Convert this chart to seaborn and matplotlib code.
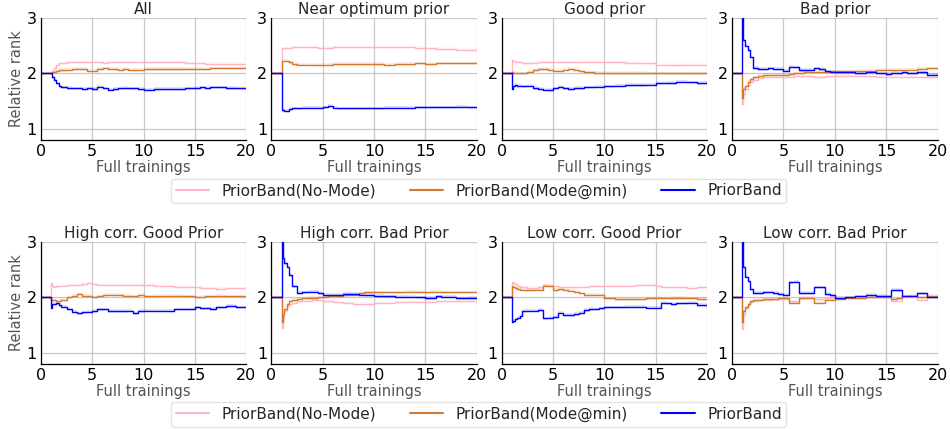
import matplotlib
matplotlib.use("Agg")
import matplotlib.pyplot as plt
import seaborn as sns
import pandas as pd

full_trainings = [0, 1, 1.1, 1.25, 1.5, 1.75, 2, 2.5, 3, 3.5, 4, 4.5, 5, 5.5, 6, 6.5, 7, 7.5, 8, 8.5,
                  9, 9.5, 10, 11, 12, 13, 14, 15, 15.5, 16, 16.5, 17, 18, 19, 20]

titles = ["All", "Near optimum prior", "Good prior", "Bad prior",
          "High corr. Good Prior", "High corr. Bad Prior", "Low corr. Good Prior", "Low corr. Bad Prior"]
methods = ["PriorBand(No-Mode)", "PriorBand(Mode@min)", "PriorBand"]

# relative rank per panel, one list per method
all_nomode = [2.0, 2.0, 2.05, 2.1, 2.15, 2.18, 2.19, 2.2, 2.2, 2.2, 2.2, 2.2, 2.21, 2.2, 2.19, 2.2, 2.2, 2.2, 2.2, 2.2,
              2.2, 2.2, 2.2, 2.2, 2.2, 2.2, 2.19, 2.18, 2.18, 2.17, 2.17, 2.17, 2.17, 2.17, 2.16]
all_modemin = [2.0, 2.0, 2.02, 2.03, 2.05, 2.06, 2.06, 2.07, 2.08, 2.08, 2.08, 2.05, 2.05, 2.08, 2.09, 2.08, 2.08, 2.07, 2.08, 2.07,
               2.06, 2.07, 2.08, 2.08, 2.08, 2.08, 2.08, 2.08, 2.08, 2.08, 2.09, 2.09, 2.09, 2.09, 2.09]
all_pb = [2.0, 2.0, 1.93, 1.88, 1.82, 1.77, 1.75, 1.74, 1.73, 1.73, 1.72, 1.73, 1.72, 1.76, 1.73, 1.71, 1.72, 1.73, 1.74, 1.73,
          1.73, 1.72, 1.71, 1.72, 1.72, 1.72, 1.73, 1.74, 1.75, 1.74, 1.75, 1.75, 1.74, 1.73, 1.74]

near_nomode = [2.0, 2.45, 2.45, 2.45, 2.46, 2.46, 2.47, 2.47, 2.48, 2.47, 2.47, 2.46, 2.46, 2.46, 2.47, 2.47, 2.47, 2.47, 2.47, 2.47,
               2.47, 2.47, 2.47, 2.47, 2.47, 2.48, 2.46, 2.45, 2.45, 2.44, 2.44, 2.44, 2.43, 2.43, 2.43]
near_modemin = [2.0, 2.23, 2.23, 2.23, 2.23, 2.2, 2.17, 2.16, 2.16, 2.16, 2.16, 2.15, 2.16, 2.16, 2.17, 2.17, 2.17, 2.17, 2.17, 2.17,
                2.17, 2.17, 2.17, 2.16, 2.17, 2.17, 2.18, 2.17, 2.17, 2.18, 2.18, 2.18, 2.18, 2.18, 2.18]
near_pb = [2.0, 1.34, 1.34, 1.33, 1.32, 1.36, 1.37, 1.37, 1.38, 1.38, 1.38, 1.38, 1.39, 1.41, 1.38, 1.37, 1.37, 1.37, 1.37, 1.37,
           1.37, 1.37, 1.37, 1.38, 1.38, 1.38, 1.39, 1.39, 1.39, 1.39, 1.39, 1.39, 1.4, 1.39, 1.4]

good_nomode = [2.0, 2.24, 2.22, 2.2, 2.2, 2.2, 2.19, 2.19, 2.19, 2.2, 2.2, 2.2, 2.21, 2.2, 2.2, 2.2, 2.2, 2.21, 2.21, 2.21,
               2.21, 2.21, 2.2, 2.2, 2.19, 2.19, 2.18, 2.16, 2.16, 2.15, 2.15, 2.15, 2.16, 2.16, 2.16]
good_modemin = [2.0, 2.02, 2.01, 2.01, 2.0, 2.0, 2.0, 2.03, 2.06, 2.08, 2.08, 2.07, 2.05, 2.05, 2.07, 2.08, 2.07, 2.04, 2.02, 2.02,
                2.01, 2.01, 2.01, 2.01, 2.01, 2.01, 2.0, 2.0, 2.0, 2.0, 2.0, 2.0, 2.0, 2.0, 2.0]
good_pb = [2.0, 1.72, 1.78, 1.79, 1.78, 1.78, 1.77, 1.78, 1.74, 1.72, 1.71, 1.7, 1.73, 1.76, 1.73, 1.72, 1.74, 1.74, 1.75, 1.75,
           1.76, 1.76, 1.77, 1.78, 1.79, 1.79, 1.8, 1.82, 1.82, 1.83, 1.83, 1.85, 1.84, 1.83, 1.84]

bad_nomode = [2.0, 1.45, 1.62, 1.72, 1.8, 1.85, 1.89, 1.92, 1.93, 1.93, 1.94, 1.94, 1.94, 1.94, 1.95, 1.95, 1.96, 1.95, 1.93, 1.93,
              1.95, 1.95, 1.96, 1.96, 1.95, 1.95, 1.94, 1.94, 1.94, 1.94, 1.94, 1.94, 1.93, 1.93, 1.92]
bad_modemin = [2.0, 1.55, 1.72, 1.78, 1.85, 1.9, 1.93, 1.96, 1.97, 1.98, 1.98, 1.98, 1.98, 1.99, 2.0, 2.01, 2.03, 2.03, 2.03, 2.03,
               2.03, 2.04, 2.04, 2.04, 2.05, 2.05, 2.06, 2.07, 2.06, 2.06, 2.07, 2.07, 2.08, 2.09, 2.08]
bad_pb = [2.0, 3.1, 2.6, 2.5, 2.42, 2.3, 2.1, 2.08, 2.08, 2.09, 2.08, 2.08, 2.05, 2.12, 2.11, 2.06, 2.06, 2.07, 2.09, 2.08,
          2.04, 2.03, 2.02, 2.02, 2.01, 2.02, 2.0, 1.99, 2.01, 2.0, 2.02, 2.0, 2.02, 1.98, 2.0]

hcg_nomode = [2.0, 2.25, 2.2, 2.18, 2.2, 2.2, 2.21, 2.22, 2.23, 2.23, 2.24, 2.25, 2.24, 2.23, 2.22, 2.22, 2.23, 2.23, 2.23, 2.22,
              2.22, 2.22, 2.22, 2.21, 2.2, 2.19, 2.19, 2.18, 2.17, 2.17, 2.16, 2.15, 2.16, 2.16, 2.14]
hcg_modemin = [2.0, 1.96, 1.96, 1.95, 1.93, 1.94, 1.96, 2.0, 2.03, 2.06, 2.03, 2.03, 2.0, 2.02, 2.04, 2.05, 2.05, 2.04, 2.03, 2.03,
               2.02, 2.05, 2.02, 2.03, 2.03, 2.03, 2.02, 2.0, 2.01, 2.02, 2.02, 2.03, 2.02, 2.02, 2.02]
hcg_pb = [2.0, 1.8, 1.88, 1.88, 1.89, 1.86, 1.83, 1.78, 1.74, 1.71, 1.73, 1.74, 1.75, 1.78, 1.78, 1.75, 1.75, 1.75, 1.75, 1.76,
          1.71, 1.75, 1.76, 1.76, 1.76, 1.78, 1.78, 1.82, 1.8, 1.8, 1.79, 1.82, 1.84, 1.82, 1.82]

hcb_nomode = [2.0, 1.45, 1.62, 1.75, 1.85, 1.88, 1.9, 1.93, 1.94, 1.94, 1.95, 1.95, 1.94, 1.93, 1.92, 1.91, 1.9, 1.89, 1.88, 1.88,
              1.88, 1.88, 1.89, 1.9, 1.91, 1.92, 1.92, 1.92, 1.92, 1.93, 1.93, 1.93, 1.93, 1.93, 1.92]
hcb_modemin = [2.0, 1.55, 1.7, 1.78, 1.88, 1.94, 1.96, 1.97, 1.98, 1.99, 1.99, 2.0, 2.01, 2.02, 2.03, 2.03, 2.04, 2.05, 2.05, 2.07,
               2.09, 2.09, 2.09, 2.09, 2.09, 2.1, 2.1, 2.09, 2.1, 2.1, 2.09, 2.09, 2.09, 2.09, 2.09]
hcb_pb = [2.0, 3.1, 2.7, 2.62, 2.55, 2.4, 2.2, 2.08, 2.09, 2.1, 2.1, 2.08, 2.04, 2.04, 2.04, 2.05, 2.06, 2.06, 2.06, 2.05,
          2.04, 2.04, 2.03, 2.02, 2.01, 2.01, 2.0, 1.99, 1.99, 2.02, 2.01, 2.01, 1.98, 1.99, 1.99]

lcg_nomode = [2.0, 2.27, 2.26, 2.24, 2.2, 2.19, 2.18, 2.17, 2.17, 2.18, 2.22, 2.21, 2.2, 2.19, 2.18, 2.18, 2.18, 2.19, 2.19, 2.2,
              2.2, 2.2, 2.21, 2.21, 2.21, 2.22, 2.22, 2.2, 2.19, 2.18, 2.18, 2.18, 2.17, 2.18, 2.18]
lcg_modemin = [2.0, 2.2, 2.18, 2.16, 2.15, 2.14, 2.13, 2.13, 2.14, 2.14, 2.21, 2.21, 2.13, 2.15, 2.14, 2.12, 2.1, 2.07, 2.04, 2.05,
               2.05, 2.05, 1.98, 1.97, 1.97, 1.97, 1.98, 1.99, 1.98, 1.98, 1.99, 1.99, 1.98, 1.97, 1.97]
lcg_pb = [2.0, 1.56, 1.57, 1.6, 1.63, 1.66, 1.75, 1.76, 1.76, 1.77, 1.62, 1.63, 1.64, 1.72, 1.68, 1.68, 1.7, 1.72, 1.77, 1.79,
          1.78, 1.8, 1.82, 1.82, 1.83, 1.83, 1.81, 1.81, 1.9, 1.89, 1.88, 1.89, 1.9, 1.86, 1.86]

lcb_nomode = [2.0, 1.42, 1.68, 1.8, 1.86, 1.91, 1.93, 1.95, 1.96, 1.96, 1.97, 1.97, 1.97, 1.93, 1.93, 1.99, 2.0, 2.0, 1.97, 1.97,
              1.99, 1.99, 2.0, 2.0, 2.0, 2.01, 2.0, 2.0, 1.94, 1.94, 2.0, 2.01, 1.96, 2.0, 2.02]
lcb_modemin = [2.0, 1.55, 1.75, 1.82, 1.88, 1.93, 1.95, 1.96, 1.97, 1.97, 1.97, 1.98, 1.99, 1.9, 1.9, 1.98, 1.98, 1.98, 1.9, 1.9,
               1.96, 1.96, 1.97, 1.98, 1.99, 2.0, 2.01, 2.01, 1.97, 1.98, 2.02, 2.03, 2.0, 2.03, 2.05]
lcb_pb = [2.0, 3.1, 2.55, 2.37, 2.3, 2.15, 2.08, 2.08, 2.09, 2.09, 2.08, 2.06, 2.05, 2.27, 2.28, 2.08, 2.08, 2.08, 2.18, 2.18,
          2.06, 2.04, 1.99, 2.0, 2.02, 2.05, 2.03, 2.02, 2.13, 2.13, 2.02, 2.02, 2.07, 2.0, 2.0]

panels = [
    (all_nomode, all_modemin, all_pb),
    (near_nomode, near_modemin, near_pb),
    (good_nomode, good_modemin, good_pb),
    (bad_nomode, bad_modemin, bad_pb),
    (hcg_nomode, hcg_modemin, hcg_pb),
    (hcb_nomode, hcb_modemin, hcb_pb),
    (lcg_nomode, lcg_modemin, lcg_pb),
    (lcb_nomode, lcb_modemin, lcb_pb),
]

colors = {"PriorBand(No-Mode)": "#ffb6c1", "PriorBand(Mode@min)": "#d5792f", "PriorBand": "#0000ff"}
band = 0.03

rows = []
for title, series in zip(titles, panels):
    for method, vals in zip(methods, series):
        for x, y in zip(full_trainings, vals):
            rows.append({"panel": title, "method": method, "x": x, "rank": y})
df = pd.DataFrame(rows)

sns.set_theme(style="whitegrid")
plt.rcParams['font.family'] = ['DejaVu Sans']

fig, axes = plt.subplots(2, 4, figsize=(9.5, 4.29), dpi=100)
fig.subplots_adjust(left=0.043, right=0.987, top=0.958, bottom=0.152, wspace=0.121, hspace=0.836)

for i, (ax, title) in enumerate(zip(axes.flat, titles)):
    sub = df[df["panel"] == title]
    for method in methods:
        d = sub[sub["method"] == method]
        ax.fill_between(d["x"], d["rank"] - band, d["rank"] + band, step="post",
                        color=colors[method], alpha=0.12, linewidth=0)
    sns.lineplot(data=sub, x="x", y="rank", hue="method", hue_order=methods, palette=colors,
                 drawstyle="steps-post", linewidth=1.0, errorbar=None, legend=False, ax=ax)
    ax.set_xlim(0, 20)
    ax.set_ylim(0.8, 3.0)
    ax.set_xticks([0, 5, 10, 15, 20])
    ax.set_yticks([1, 2, 3])
    ax.set_title(title, fontsize=11, pad=3)
    ax.set_xlabel("Full trainings", fontsize=10.5, color="#555555", labelpad=1)
    if i % 4 == 0:
        ax.set_ylabel("Relative rank", fontsize=10.5, color="#555555", labelpad=2)
    else:
        ax.set_ylabel("")
    ax.tick_params(axis="both", labelsize=11.5, length=0, pad=3, colors="black")
    ax.grid(True, color="#c8c8c8", linewidth=0.9)
    sns.despine(ax=ax)
    for side in ["left", "bottom"]:
        ax.spines[side].set_color("black")
        ax.spines[side].set_linewidth(0.9)

handles = [plt.Line2D([], [], color=colors[m], linewidth=1.5) for m in methods]
for yc in [0.555, 0.034]:
    fig.legend(handles, methods, loc="center", bbox_to_anchor=(0.504, yc), ncol=3, fontsize=11,
               frameon=True, edgecolor="#dddddd", fancybox=True, handlelength=2.2, columnspacing=2.2,
               borderpad=0.3)

fig.savefig("out.png", dpi=100)
